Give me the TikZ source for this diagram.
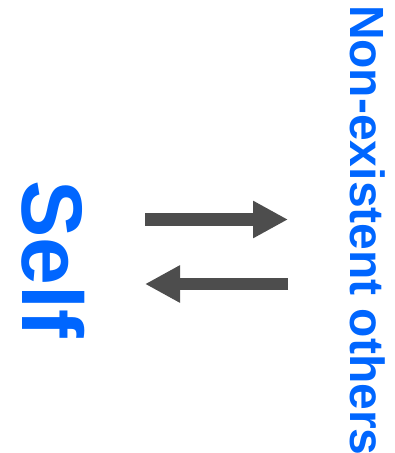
\documentclass[tikz,border=0pt]{standalone}
\usepackage{fontspec}
\setmainfont{Liberation Sans}
\usetikzlibrary{arrows.meta}
\definecolor{lblue}{HTML}{0066FF}
\definecolor{agray}{HTML}{4D4D4D}
\tikzset{
  lbl/.style={font=\bfseries, text=lblue, inner sep=0pt, outer sep=0pt, rotate=-90, anchor=base west},
  bigarrow/.style={draw=agray, line width=12.5pt, -{Triangle[length=35pt,width=35pt]}, fill=agray}
}
\begin{document}
\begin{tikzpicture}[x=1pt,y=-1pt]
\useasboundingbox (0,0) rectangle (395,453);
\node[lbl, font=\fontsize{86}{86}\selectfont\bfseries] (self) at (22,180) {Self};
\node[lbl, font=\fontsize{48}{48}\selectfont\bfseries] (others) at (350,5) {Non-existent others};
\coordinate (a1s) at (145,219.5);
\coordinate (a1e) at (288,219.5);
\coordinate (a2s) at (288,284);
\coordinate (a2e) at (145,284);
\draw[bigarrow] (a1s) -- (a1e);
\draw[bigarrow] (a2s) -- (a2e);
\end{tikzpicture}
\end{document}
